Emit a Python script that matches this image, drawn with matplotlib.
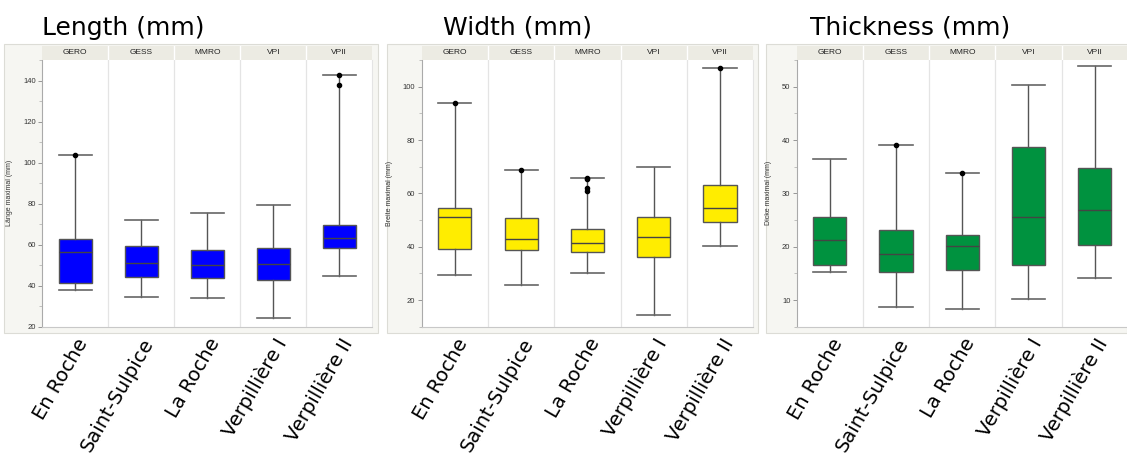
import matplotlib
matplotlib.use("Agg")
import matplotlib.pyplot as plt
from matplotlib.patches import Rectangle
from matplotlib.ticker import MultipleLocator

# ---- data ----
GROUPS = ["GERO", "GESS", "MMRO", "VPI", "VPII"]
SITES = ["En Roche", "Saint-Sulpice", "La Roche", "Verpillière I", "Verpillière II"]

LENGTH_Q1 = [41.3, 44.2, 43.7, 42.9, 58.5]
LENGTH_MED = [56.5, 50.9, 49.9, 50.4, 63.0]
LENGTH_Q3 = [62.7, 59.1, 57.2, 58.5, 69.7]
LENGTH_LO = [37.7, 34.5, 34.0, 24.2, 44.8]
LENGTH_HI = [103.6, 72.0, 75.2, 79.3, 142.8]
LENGTH_OUT = [[103.6], [], [], [], [142.9, 137.9]]

WIDTH_Q1 = [39.1, 38.9, 38.0, 36.0, 49.4]
WIDTH_MED = [51.1, 43.0, 41.25, 43.5, 54.5]
WIDTH_Q3 = [54.4, 50.6, 46.5, 51.25, 63.0]
WIDTH_LO = [29.4, 25.5, 30.0, 14.4, 40.1]
WIDTH_HI = [93.9, 68.75, 65.9, 70.0, 107.1]
WIDTH_OUT = [[93.9], [68.9], [65.9, 65.3, 62.0, 61.0], [], [107.1]]

THICK_Q1 = [16.5, 15.25, 15.6, 16.5, 20.3]
THICK_MED = [21.25, 18.6, 20.2, 25.6, 26.9]
THICK_Q3 = [25.6, 23.1, 22.25, 38.7, 34.8]
THICK_LO = [15.3, 8.75, 8.4, 10.1, 14.1]
THICK_HI = [36.5, 39.0, 33.8, 50.25, 53.9]
THICK_OUT = [[], [39.1], [33.8], [], []]

# ---- layout in pixels ----
W, H = 1127, 462
plt.rcParams['font.family'] = ['DejaVu Sans']

fig = plt.figure(figsize=(W / 100, H / 100), dpi=100)
fig.patch.set_facecolor('white')


def fx(px):
    return px / W


def fy(py):
    return 1 - py / H


# one dict per panel: texts, colour, y range, pixel placement
PANELS = [
    dict(title="Length (mm)", ylabel="Länge maximal (mm)", color="#0000ff",
         ylim=(20, 150), major=20, minor=10, frame=(4, 378), ax=(42.3, 372.3),
         tx=42, yl=29,
         stats=(LENGTH_Q1, LENGTH_MED, LENGTH_Q3, LENGTH_LO, LENGTH_HI, LENGTH_OUT)),
    dict(title="Width (mm)", ylabel="Breite maximal (mm)", color="#ffed00",
         ylim=(10, 110), major=20, minor=10, frame=(387, 758), ax=(421.7, 753.2),
         tx=443, yl=29,
         stats=(WIDTH_Q1, WIDTH_MED, WIDTH_Q3, WIDTH_LO, WIDTH_HI, WIDTH_OUT)),
    dict(title="Thickness (mm)", ylabel="Dicke maximal (mm)", color="#00923f",
         ylim=(5, 55), major=10, minor=5, frame=(766, 1127), ax=(796.7, 1127.7),
         tx=810, yl=24.5,
         stats=(THICK_Q1, THICK_MED, THICK_Q3, THICK_LO, THICK_HI, THICK_OUT)),
]

AX_TOP, AX_BOT = 60, 326.7
HEAD_TOP = 46
FRAME_TOP, FRAME_BOT = 44, 333

for p in PANELS:
    # outer light frame (behind the axes)
    f0, f1 = p['frame']
    fig.patches.append(Rectangle((fx(f0), fy(FRAME_BOT)), fx(f1 - f0), (FRAME_BOT - FRAME_TOP) / H,
                                 transform=fig.transFigure, facecolor='#f6f6f2',
                                 edgecolor='#dcdcd6', linewidth=0.8, zorder=-5))

    a0, a1 = p['ax']
    ax = fig.add_axes([fx(a0), fy(AX_BOT), fx(a1 - a0), (AX_BOT - AX_TOP) / H])
    ax.set_facecolor('white')

    q1, med, q3, lo, hi, out = p['stats']
    bstats = []
    for i in range(len(GROUPS)):
        bstats.append(dict(med=med[i], q1=q1[i], q3=q3[i], whislo=lo[i], whishi=hi[i],
                           fliers=out[i], label=GROUPS[i]))
    ax.bxp(bstats, positions=range(len(GROUPS)), widths=0.5, capwidths=0.5,
           patch_artist=True, showfliers=True,
           boxprops=dict(facecolor=p['color'], edgecolor='#555555', linewidth=1.0),
           medianprops=dict(color='#444444', linewidth=1.0),
           whiskerprops=dict(color='#555555', linewidth=1.0),
           capprops=dict(color='#666666', linewidth=1.2),
           flierprops=dict(marker='o', markersize=3, markerfacecolor='black',
                           markeredgecolor='black'))

    # column dividers
    for k in range(1, len(GROUPS)):
        ax.axvline(k - 0.5, color='#e4e4e4', linewidth=0.9, zorder=0)

    ax.set_xlim(-0.5, len(GROUPS) - 0.5)
    ax.set_ylim(*p['ylim'])
    ax.yaxis.set_major_locator(MultipleLocator(p['major']))
    ax.yaxis.set_minor_locator(MultipleLocator(p['minor']))
    ax.tick_params(axis='y', which='major', labelsize=5.5, length=3, width=0.6,
                   color='#888888', labelcolor='#333333', pad=1.5)
    ax.tick_params(axis='y', which='minor', length=2, width=0.5, color='#aaaaaa')
    for lab in ax.get_yticklabels():
        lab.set_family('Liberation Sans')
    ax.set_ylabel(p['ylabel'], fontsize=5, family='Liberation Sans', color='#333333')
    ax.yaxis.set_label_coords(-p['yl'] / (a1 - a0), 0.5)

    ax.set_xticks(range(len(SITES)))
    ax.set_xticklabels(SITES, rotation=60, ha='right', va='top', rotation_mode='anchor',
                       fontsize=14)
    ax.tick_params(axis='x', length=0, pad=6)

    ax.spines['top'].set_visible(False)
    ax.spines['right'].set_color('#e4e4e4')
    ax.spines['left'].set_color('#aaaaaa')
    ax.spines['bottom'].set_color('#c8c8c8')
    ax.spines['left'].set_linewidth(0.8)
    ax.spines['bottom'].set_linewidth(0.8)

    # header strip with group names
    hx = fig.add_axes([fx(a0), fy(AX_TOP), fx(a1 - a0), (AX_TOP - HEAD_TOP) / H])
    hx.set_facecolor('#ecebe3')
    hx.set_xlim(-0.5, len(GROUPS) - 0.5)
    hx.set_ylim(0, 1)
    for k in range(1, len(GROUPS)):
        hx.axvline(k - 0.5, color='white', linewidth=1.0)
    for i, g in enumerate(GROUPS):
        hx.text(i, 0.5, g, ha='center', va='center', fontsize=6,
                family='Liberation Sans', color='#222222')
    hx.set_xticks([])
    hx.set_yticks([])
    for s in hx.spines.values():
        s.set_visible(False)

    # big title
    fig.text(fx(p['tx']), fy(35), p['title'], fontsize=18, ha='left', va='baseline',
             color='black')

fig.savefig('out.png', dpi=100)
